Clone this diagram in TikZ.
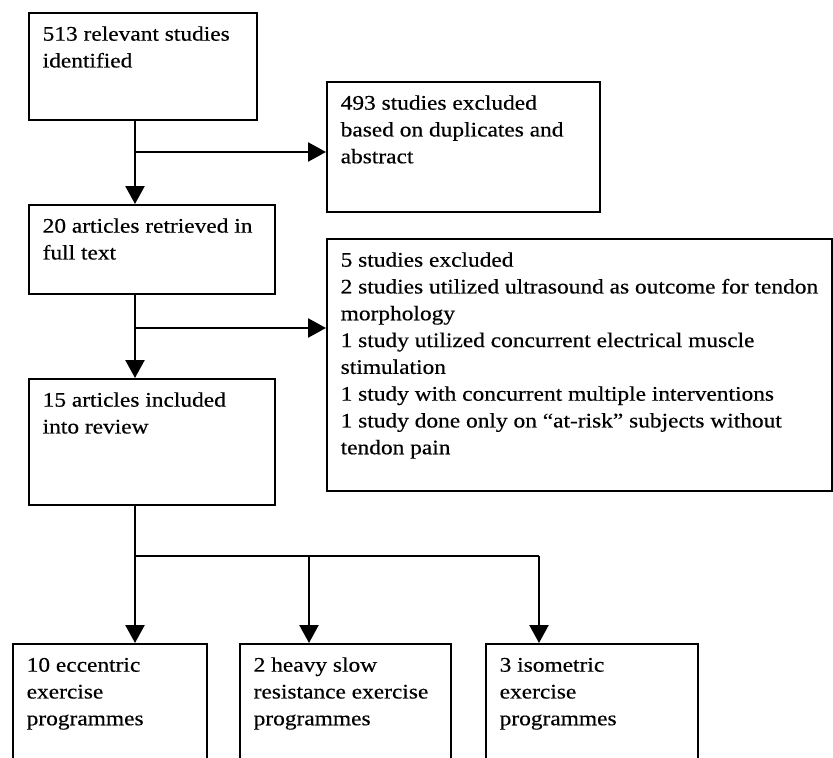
\documentclass[tikz,border=0pt]{standalone}
\usepackage{fontspec}
\setmainfont{Liberation Serif}[FakeStretch=1.13,FakeBold=0.4]
\usetikzlibrary{arrows.meta}
\begin{document}
\begin{tikzpicture}[x=1pt,y=-1pt,
        stepbox/.style={draw,line width=2pt,anchor=north west,inner sep=0pt},
        steptext/.style={anchor=north west,align=left,inner sep=0pt,font=\fontsize{20.7}{26.8}\selectfont},
        link/.style={line width=2.5pt},
        flow/.style={link,-{Triangle[length=18pt,width=19pt]}}]
        \useasboundingbox (0,0) rectangle (833,758);
        \clip (0,0) rectangle (833,758);
        \fill[white] (0,0) rectangle (833,758);
        \node[stepbox,minimum width=228pt,minimum height=107pt] (ident) at (28,12) {};
        \node[stepbox,minimum width=273pt,minimum height=130pt] (dup) at (326,81) {};
        \node[stepbox,minimum width=246pt,minimum height=89pt] (full) at (28,204) {};
        \node[stepbox,minimum width=505pt,minimum height=252pt] (excl) at (326,238) {};
        \node[stepbox,minimum width=246pt,minimum height=126pt] (incl) at (28,378) {};
        \node[stepbox,minimum width=194pt,minimum height=140pt] (ecc) at (12,643) {};
        \node[stepbox,minimum width=211pt,minimum height=140pt] (hsr) at (239,643) {};
        \node[stepbox,minimum width=212pt,minimum height=140pt] (iso) at (485,643) {};
        \node[steptext] (identtxt) at ([xshift=14.5pt,yshift=-9.7pt]ident.north west) {\strut 513 relevant studies\\identified};
        \node[steptext] (duptxt) at ([xshift=14.5pt,yshift=-9.7pt]dup.north west) {\strut 493 studies excluded\\based on duplicates and\\abstract};
        \node[steptext] (fulltxt) at ([xshift=14.5pt,yshift=-9.7pt]full.north west) {\strut 20 articles retrieved in\\full text};
        \node[steptext] (excltxt) at ([xshift=14.5pt,yshift=-9.7pt]excl.north west) {\strut 5 studies excluded\\2 studies utilized ultrasound as outcome for tendon\\morphology\\1 study utilized concurrent electrical muscle\\stimulation\\1 study with concurrent multiple interventions\\1 study done only on “at-risk” subjects without\\tendon pain};
        \node[steptext] (incltxt) at ([xshift=14.5pt,yshift=-9.7pt]incl.north west) {\strut 15 articles included\\into review};
        \node[steptext] (ecctxt) at ([xshift=14.5pt,yshift=-9.7pt]ecc.north west) {\strut 10 eccentric\\exercise\\programmes};
        \node[steptext] (hsrtxt) at ([xshift=14.5pt,yshift=-9.7pt]hsr.north west) {\strut 2 heavy slow\\resistance exercise\\programmes};
        \node[steptext] (isotxt) at ([xshift=14.5pt,yshift=-9.7pt]iso.north west) {\strut 3 isometric\\exercise\\programmes};
        \coordinate (spine) at (135,0);
        \coordinate (fork1) at (135,152);
        \coordinate (fork2) at (135,328);
        \coordinate (split) at (135,556);
        \coordinate (drop2) at (309,556);
        \coordinate (drop3) at (539,556);
        \draw[flow] (ident.south -| spine) -- (full.north -| spine);
        \draw[flow] (fork1) -- (fork1 -| dup.west);
        \draw[flow] (full.south -| spine) -- (incl.north -| spine);
        \draw[flow] (fork2) -- (fork2 -| excl.west);
        \draw[link] (incl.south -| split) -- (split) -- (drop3);
        \foreach \d/\b in {split/ecc,drop2/hsr,drop3/iso}
        {
            \draw[flow] (\d) -- (\d |- \b.north);
        }
    \end{tikzpicture}
\end{document}
